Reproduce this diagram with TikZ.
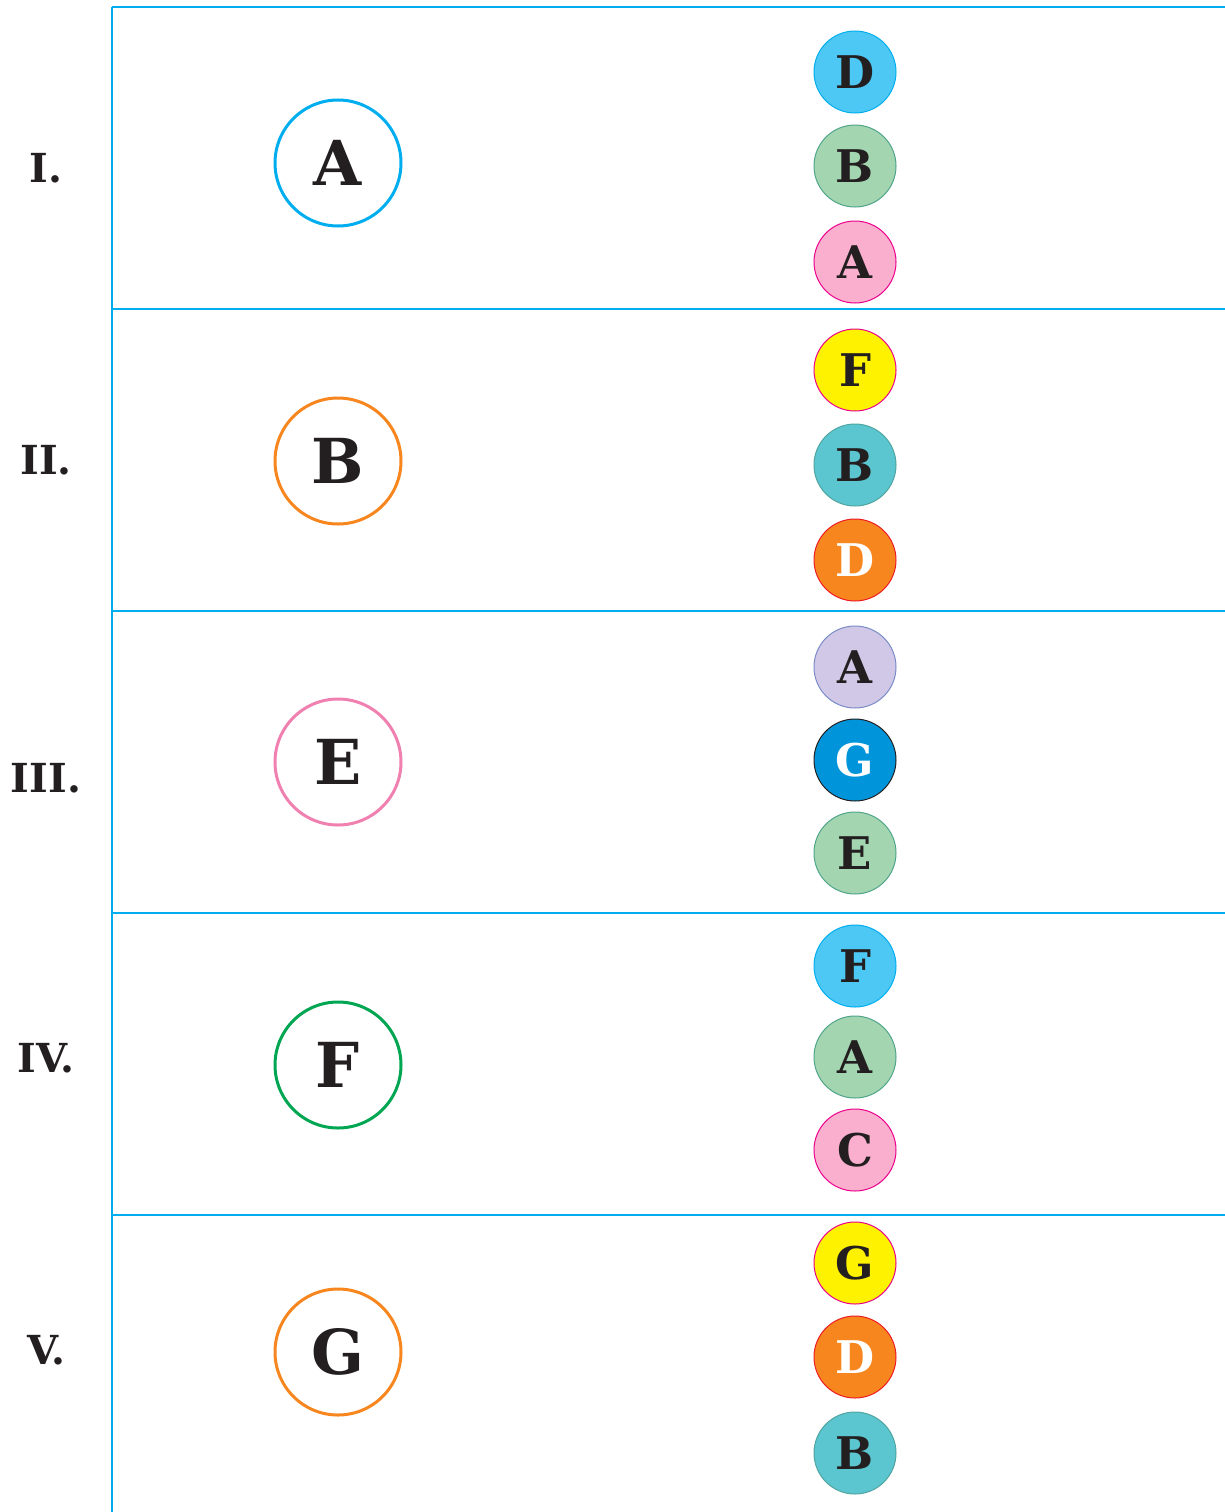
\documentclass[tikz,border=0pt]{standalone}
\usepackage{fontspec}
\setmainfont{DejaVu Serif}
\begin{document}
\begin{tikzpicture}[x=1pt,y=-1pt,
  txt/.style={text=ink,font=\bfseries\fontsize{44}{44}\selectfont},
  bigc/.style={circle,draw,line width=3pt,minimum size=126pt,inner sep=0pt,text=ink,font=\bfseries\fontsize{62}{62}\selectfont},
  smallc/.style={circle,draw,line width=1pt,minimum size=82pt,inner sep=0pt,text=ink,font=\bfseries\fontsize{45}{45}\selectfont},
  rule/.style={draw=rulecol,line width=1.6pt},
  roman/.style={text=ink,font=\bfseries\fontsize{40}{40}\selectfont}]
\definecolor{ink}{HTML}{231F20}
\definecolor{rulecol}{HTML}{00AEEF}
\definecolor{cyanS}{HTML}{00AEEF}
\definecolor{cyanF}{HTML}{4DC8F4}
\definecolor{greenF}{HTML}{A3D5B0}
\definecolor{greenS}{HTML}{4FA58A}
\definecolor{pinkF}{HTML}{F9AFCD}
\definecolor{magS}{HTML}{EC008C}
\definecolor{yelF}{HTML}{FFF200}
\definecolor{tealF}{HTML}{5BC5D0}
\definecolor{tealS}{HTML}{4FA5A0}
\definecolor{orF}{HTML}{F7861F}
\definecolor{redS}{HTML}{ED1C24}
\definecolor{lavF}{HTML}{D0C8E6}
\definecolor{lavS}{HTML}{7A8CC8}
\definecolor{blueF}{HTML}{0095DA}
\definecolor{pinkS}{HTML}{F080B0}
\definecolor{grS}{HTML}{00A651}
\useasboundingbox (0,0) rectangle (1225,1512);
% rules
\coordinate (vt) at (112,7);
\coordinate (vb) at (112,1512);
\draw[rule] (vt) -- (vb);
\foreach \yy/\nm in {7/h1,309/h2,611/h3,913/h4,1215/h5}{
  \coordinate (\nm l) at (112,\yy);
  \coordinate (\nm r) at (1225,\yy);
  \draw[rule] (\nm l) -- (\nm r);
}
% roman numerals
\node[roman] (r1) at (46,168) {I.};
\node[roman] (r2) at (46,460) {II.};
\node[roman] (r3) at (46,778) {III.};
\node[roman] (r4) at (46,1058) {IV.};
\node[roman] (r5) at (46,1350) {V.};
% big circles
\node[bigc,draw=cyanS] (b1) at (338,163) {A};
\node[bigc,draw=orF] (b2) at (338,461) {B};
\node[bigc,draw=pinkS] (b3) at (338,762) {E};
\node[bigc,draw=grS] (b4) at (338,1065) {F};
\node[bigc,draw=orF] (b5) at (338,1352) {G};
% small circles
\node[smallc,fill=cyanF,draw=cyanS] (s11) at (855,72) {D};
\node[smallc,fill=greenF,draw=greenS] (s12) at (855,166) {B};
\node[smallc,fill=pinkF,draw=magS] (s13) at (855,262) {A};
\node[smallc,fill=yelF,draw=magS] (s21) at (855,370) {F};
\node[smallc,fill=tealF,draw=tealS] (s22) at (855,465) {B};
\node[smallc,fill=orF,draw=redS,text=white] (s23) at (855,560) {D};
\node[smallc,fill=lavF,draw=lavS] (s31) at (855,667) {A};
\node[smallc,fill=blueF,draw=ink,text=white] (s32) at (855,760) {G};
\node[smallc,fill=greenF,draw=greenS] (s33) at (855,853) {E};
\node[smallc,fill=cyanF,draw=cyanS] (s41) at (855,966) {F};
\node[smallc,fill=greenF,draw=greenS] (s42) at (855,1057) {A};
\node[smallc,fill=pinkF,draw=magS] (s43) at (855,1150) {C};
\node[smallc,fill=yelF,draw=magS] (s51) at (855,1263) {G};
\node[smallc,fill=orF,draw=redS,text=white] (s52) at (855,1357) {D};
\node[smallc,fill=tealF,draw=tealS] (s53) at (855,1453) {B};
\end{tikzpicture}
\end{document}
